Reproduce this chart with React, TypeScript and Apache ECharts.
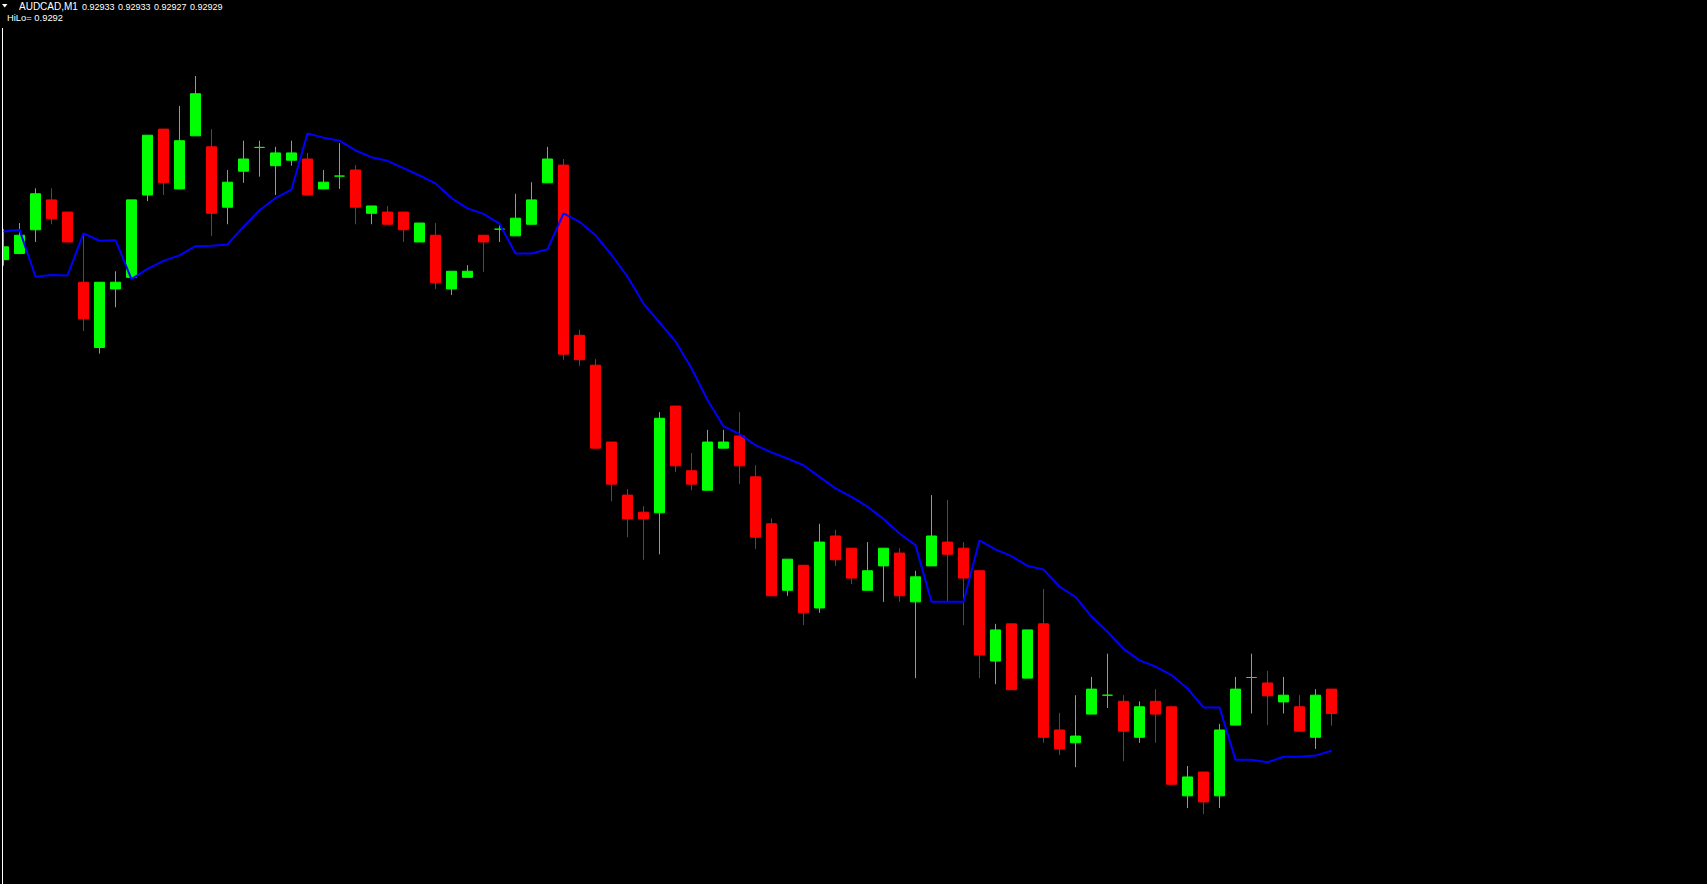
import React, { useEffect, useRef } from "react";
import * as echarts from "echarts";

// ---- texts ----
const symbolName = "AUDCAD,M1";
const quote = ["0.92933", "0.92933", "0.92927", "0.92929"];
const hiloLabel = "HiLo= 0.9292";

// ---- candle values (price) ----
const opens = [
  0.930034, 0.930044, 0.930083, 0.930132, 0.930112, 0.929997, 0.92989, 0.929986, 0.930005, 0.93014,
  0.930248, 0.93015, 0.930237, 0.930219, 0.93012, 0.930179, 0.930218, 0.930188, 0.930197, 0.930199,
  0.93015, 0.930171, 0.930181, 0.93011, 0.930112, 0.930112, 0.930063, 0.930074, 0.929986, 0.930005,
  0.930074, 0.930084, 0.930073, 0.930092, 0.93016, 0.930189, 0.92991, 0.929861, 0.929735, 0.929648,
  0.92962, 0.929619, 0.929794, 0.929688, 0.929656, 0.929725, 0.929745, 0.929678, 0.929601, 0.929492,
  0.929533, 0.929463, 0.929581, 0.929561, 0.929492, 0.929532, 0.929553, 0.929473, 0.929532, 0.929571,
  0.929561, 0.929524, 0.929376, 0.929437, 0.929348, 0.929437, 0.929263, 0.929242, 0.929289, 0.92932,
  0.92931, 0.929251, 0.92931, 0.929301, 0.929155, 0.929194, 0.929155, 0.929271, 0.929349, 0.92934,
  0.929309, 0.929301, 0.929251, 0.92933,
];
const closes = [
  0.930055, 0.930074, 0.930142, 0.930101, 0.930063, 0.929937, 0.929997, 0.929997, 0.930132, 0.930238,
  0.93016, 0.930229, 0.930306, 0.93011, 0.930161, 0.930199, 0.930218, 0.930209, 0.930209, 0.93014,
  0.930161, 0.930171, 0.93012, 0.930122, 0.930092, 0.930083, 0.930094, 0.929996, 0.930015, 0.930015,
  0.930063, 0.930084, 0.930102, 0.930132, 0.930199, 0.929879, 0.92987, 0.929725, 0.929666, 0.929609,
  0.929609, 0.929774, 0.929696, 0.929666, 0.929735, 0.929735, 0.929696, 0.929579, 0.929483, 0.929543,
  0.929455, 0.929571, 0.929542, 0.929512, 0.929524, 0.929561, 0.929483, 0.929514, 0.929581, 0.929551,
  0.929512, 0.929386, 0.929427, 0.929329, 0.929427, 0.929251, 0.929232, 0.929253, 0.92933, 0.92932,
  0.929261, 0.929301, 0.929289, 0.929174, 0.929186, 0.929145, 0.929263, 0.92933, 0.929349, 0.929319,
  0.92932, 0.929261, 0.92932, 0.92929,
];
const lows = [
  0.930024, 0.930044, 0.930063, 0.930092, 0.930063, 0.929917, 0.92988, 0.929956, 0.930005, 0.93013,
  0.93014, 0.93015, 0.930237, 0.930073, 0.930092, 0.93016, 0.93017, 0.93014, 0.930188, 0.93014,
  0.93015, 0.93015, 0.930092, 0.930092, 0.930092, 0.930063, 0.930063, 0.929986, 0.929976, 0.930005,
  0.930014, 0.930063, 0.930073, 0.930092, 0.93016, 0.92987, 0.92986, 0.929725, 0.929638, 0.929579,
  0.929542, 0.929551, 0.929686, 0.929656, 0.929656, 0.929725, 0.929666, 0.92956, 0.929483, 0.929483,
  0.929435, 0.929455, 0.929532, 0.929502, 0.929492, 0.929473, 0.929473, 0.929348, 0.929532, 0.929474,
  0.929435, 0.929348, 0.929338, 0.929329, 0.929348, 0.929242, 0.929222, 0.929202, 0.929289, 0.929299,
  0.929212, 0.929242, 0.929242, 0.929174, 0.929135, 0.929125, 0.929135, 0.929271, 0.92929, 0.929271,
  0.92929, 0.929261, 0.929232, 0.92927,
];
const highs = [
  0.930084, 0.930094, 0.930151, 0.930151, 0.930112, 0.930076, 0.929997, 0.930015, 0.930132, 0.930238,
  0.930248, 0.930286, 0.930335, 0.930248, 0.930181, 0.930229, 0.930229, 0.930219, 0.930229, 0.930209,
  0.930181, 0.930225, 0.930189, 0.930122, 0.930122, 0.930112, 0.930094, 0.930094, 0.930015, 0.930025,
  0.930074, 0.930091, 0.930142, 0.930161, 0.930219, 0.930199, 0.929919, 0.929871, 0.929735, 0.929658,
  0.92963, 0.929784, 0.929794, 0.929717, 0.929755, 0.929755, 0.929784, 0.929697, 0.92961, 0.929543,
  0.929533, 0.929601, 0.929591, 0.929561, 0.929571, 0.929561, 0.929561, 0.929524, 0.929648, 0.92964,
  0.929571, 0.929524, 0.929437, 0.929437, 0.929427, 0.929494, 0.929291, 0.92932, 0.92935, 0.929388,
  0.92932, 0.92931, 0.92933, 0.929301, 0.929204, 0.929194, 0.929273, 0.92935, 0.929388, 0.92936,
  0.92935, 0.92932, 0.92933, 0.92933,
];
// ---- HiLo indicator line ----
const hilo = [
  0.93008, 0.930083, 0.930006, 0.930009, 0.930008, 0.930077, 0.930065, 0.930066, 0.930002, 0.930019,
  0.930032, 0.930041, 0.930056, 0.930057, 0.930059, 0.930088, 0.930115, 0.930135, 0.930149, 0.930241,
  0.930234, 0.930229, 0.930213, 0.930202, 0.930196, 0.930184, 0.930172, 0.930159, 0.930135, 0.930118,
  0.930109, 0.930093, 0.930044, 0.930044, 0.930051, 0.93011, 0.930096, 0.930074, 0.930042, 0.930006,
  0.929962, 0.929931, 0.9299, 0.929856, 0.929804, 0.929761, 0.929748, 0.92973, 0.929718, 0.929708,
  0.929697, 0.929678, 0.929659, 0.929645, 0.929629, 0.929609, 0.929585, 0.929566, 0.929473, 0.929473,
  0.929473, 0.929574, 0.929559, 0.929548, 0.929532, 0.929526, 0.929498, 0.929481, 0.929449, 0.929424,
  0.929396, 0.929377, 0.929367, 0.929353, 0.929331, 0.9293, 0.9293, 0.929214, 0.929214, 0.92921,
  0.929219, 0.929219, 0.929221, 0.929229,
];
const categories = opens.map((_, i) => String(i + 1));

// ---- view range ----
const Y_MIN = 0.92901049;
const Y_MAX = 0.93045967;
const X_MAX_INDEX = 105;

const UP = "#00FF00";
const DOWN = "#FF0000";

export default function App() {
  const ref = useRef<HTMLDivElement>(null);
  useEffect(() => {
    const chart = echarts.init(ref.current!, null, { renderer: "svg" });
    const candleData = opens.map((o, i) => {
      const item: any = { value: [o, closes[i], lows[i], highs[i]] };
      if (o === closes[i]) {
        item.itemStyle = { color: UP, color0: UP, borderColor: UP, borderColor0: UP };
      }
      return item;
    });
    const font = '"Liberation Sans", Arial, sans-serif';
    const quoteX = [82, 118, 154, 190];
    chart.setOption({
      animation: false,
      backgroundColor: "#000000",
      grid: { left: 3.5, right: 1707 - 3.5 - 16 * X_MAX_INDEX, top: 0, bottom: 0 },
      xAxis: {
        type: "category",
        data: categories,
        boundaryGap: false,
        max: X_MAX_INDEX,
        show: false,
      },
      yAxis: {
        type: "value",
        min: Y_MIN,
        max: Y_MAX,
        show: false,
        splitLine: { show: false },
      },
      series: [
        {
          type: "candlestick",
          data: candleData,
          barWidth: 10,
          clip: true,
          itemStyle: {
            color: UP,
            color0: DOWN,
            borderColor: UP,
            borderColor0: DOWN,
            borderWidth: 1,
          },
          z: 2,
        },
        {
          type: "line",
          data: hilo,
          symbol: "none",
          showSymbol: false,
          lineStyle: { color: "#0000FF", width: 2 },
          z: 3,
        },
      ],
      graphic: [
        { type: "rect", z: 100, shape: { x: 0, y: 0, width: 2, height: 884 }, style: { fill: "#000000" } },
        { type: "rect", z: 101, shape: { x: 2, y: 28, width: 1, height: 856 }, style: { fill: "#FFFFFF" } },
        { type: "polygon", z: 101, shape: { points: [[2, 4], [7.5, 4], [4.75, 7.5]] }, style: { fill: "#FFFFFF" } },
        {
          type: "text",
          z: 101,
          x: 19,
          y: 6.5,
          style: { text: symbolName, fill: "#FFFFFF", font: `10px ${font}`, verticalAlign: "middle" },
        },
        ...quote.map((q, i) => ({
          type: "text",
          z: 101,
          x: quoteX[i],
          y: 6.5,
          style: { text: q, fill: "#FFFFFF", font: `9px ${font}`, verticalAlign: "middle" },
        })),
        {
          type: "text",
          z: 101,
          x: 7,
          y: 17.5,
          style: { text: hiloLabel, fill: "#FFFFFF", font: `9.4px ${font}`, verticalAlign: "middle" },
        },
      ],
    });
    return () => chart.dispose();
  }, []);
  return (
    <div
      ref={ref}
      style={{ position: "fixed", left: 0, top: 0, width: 1707, height: 884, background: "#000" }}
    />
  );
}
